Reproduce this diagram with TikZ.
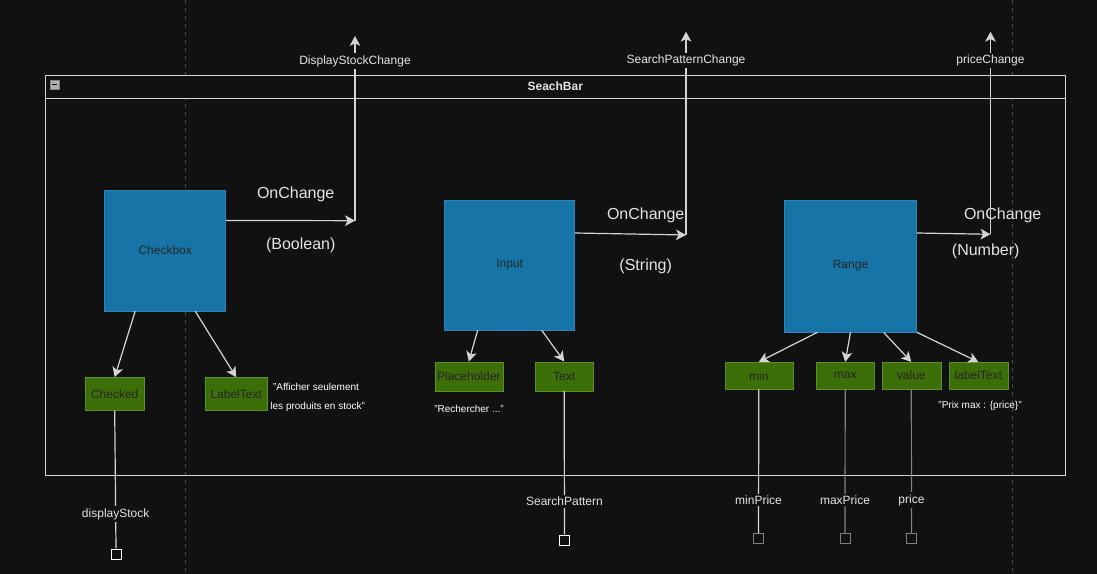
\documentclass[tikz,border=0pt]{standalone}
\usepackage{fontspec}
\setmainfont{Liberation Sans}
\usetikzlibrary{arrows.meta, positioning}
\definecolor{my_bg}{RGB}{17, 17, 17}
\definecolor{my_blue}{RGB}{22, 117, 166}
\definecolor{my_blueline}{RGB}{45, 132, 184}
\definecolor{my_green}{RGB}{61, 111, 8}
\definecolor{my_greenline}{RGB}{92, 142, 42}
\definecolor{my_line}{RGB}{212, 212, 212}
\definecolor{my_gray}{RGB}{128, 128, 128}
\definecolor{my_text}{RGB}{228, 228, 228}
\definecolor{my_dash}{RGB}{68, 68, 68}
\tikzset {
  container/.style = {draw=my_line, line width=0.75pt},
  component/.style = {draw=my_blueline, fill=my_blue, text=black!85, inner sep=0pt, font=\fontsize{9}{11}\selectfont},
  prop/.style = {draw=my_greenline, fill=my_green, text=black!85, inner sep=0pt, font=\fontsize{9}{11}\selectfont},
  line/.style = {->, color=my_line, line width=0.9pt, >={Stealth[length=7.5pt, width=8pt, inset=2pt]}},
  wire/.style = {color=my_line, line width=0.9pt},
  graywire/.style = {wire, color=my_gray},
  event/.style = {text=my_text, font=\fontsize{12}{14}\selectfont},
  portlabel/.style = {fill=my_bg, text=my_text, inner sep=1.5pt, font=\fontsize{9}{11}\selectfont},
  quote/.style = {text=white, inner sep=0pt, font=\fontsize{7.5}{9}\selectfont},
  port/.style = {draw=white, fill=my_bg, line width=0.75pt, minimum size=7.5pt, inner sep=0pt},
  grayport/.style = {port, draw=my_gray}
}

\begin{document}
\begin{tikzpicture}[x=0.75pt, y=-0.75pt]

    % page and guides
    \fill[my_bg] (0,0) rectangle (1097,574);
    \useasboundingbox (0,0) rectangle (1097,574);
    \draw[my_dash, line width=0.75pt, dash pattern=on 3pt off 3pt] (185.3,0) -- (185.3,574);
    \draw[my_dash, line width=0.75pt, dash pattern=on 3pt off 3pt] (1012.3,0) -- (1012.3,574);

    % container
    \draw[container] (45.7,75.3) rectangle (1065.7,475);
    \draw[container, fill=my_bg] (45.7,75.3) rectangle (1065.7,98.7);
    \node[draw=my_gray, fill=gray!60, minimum size=6.75pt, inner sep=0pt] (fold) at (54.5,84.5) {};
    \draw[black, line width=1pt] ([xshift=-2pt]fold.center) -- ([xshift=2pt]fold.center);
    \node[text=my_text, font=\bfseries\fontsize{9}{11}\selectfont] (title) at (555.3,86.7) {SeachBar};

    % components
    \node[component, minimum size=90.75pt] (checkbox) at (165.2,250.4) {Checkbox};
    \node[component, minimum size=97.5pt] (input) at (509.7,265) {Input};
    \node[component, minimum size=99pt] (range) at (850.5,266) {Range};

    % props
    \node[prop, minimum width=44.25pt, minimum height=24.75pt] (checked) at (114.7,394) {Checked};
    \node[prop, minimum width=46.5pt, minimum height=24.75pt] (labeltext) at (236.2,394) {LabelText};
    \node[prop, minimum width=51pt, minimum height=21.75pt] (placeholder) at (468.8,376.3) {Placeholder};
    \node[prop, minimum width=43.5pt, minimum height=21.75pt] (text) at (564.2,376.3) {Text};
    \node[prop, minimum width=51pt, minimum height=20.25pt] (min) at (758.8,375.7) {min};
    \node[prop, minimum width=43.5pt, minimum height=20.25pt] (max) at (845.2,375.7) {max};
    \node[prop, minimum width=44.25pt, minimum height=20.25pt] (value) at (911.3,375.7) {value};
    \node[prop, minimum width=44.25pt, minimum height=20.25pt] (rangelabel) at (978.3,375.7) {labelText};

    % values
    \node[quote] (stockquote1) at (316,386.7) {"Afficher seulement};
    \node[quote] (stockquote2) at (317.7,406.7) {les produits en stock"};
    \node[quote] (searchquote) at (469,409) {"Rechercher ..."};
    \node[quote] (pricequote) at (980,405.7) {"Prix max : \{price\}"};

    % events
    \node[event] (onchange1) at (295.7,194.3) {OnChange};
    \node[event] (type1) at (300.7,245.7) {(Boolean)};
    \node[event] (onchange2) at (645.7,215.7) {OnChange};
    \node[event] (type2) at (645.7,266) {(String)};
    \node[event] (onchange3) at (1002.7,215.7) {OnChange};
    \node[event] (type3) at (985.7,251) {(Number)};

    \coordinate (bend1) at (355,220.7);
    \coordinate (out1) at (355,36);
    \coordinate (bend2) at (686,235);
    \coordinate (out2) at (686,31.7);
    \coordinate (bend3) at (990.5,234.3);
    \coordinate (out3) at (990.5,31.7);

    \draw[line] ([yshift=22.5pt]checkbox.east) -- (bend1);
    \draw[line] (bend1) -- (out1) node[portlabel, pos=0.865] {DisplayStockChange};
    \draw[line] ([yshift=24pt]input.east) -- (bend2);
    \draw[line] (bend2) -- (out2) node[portlabel, pos=0.857] {SearchPatternChange};
    \draw[line] ([yshift=24.75pt]range.east) -- (bend3);
    \draw[line] (bend3) -- (out3) node[portlabel, pos=0.856] {priceChange};

    % children
    \draw[line] ([xshift=-22.5pt]checkbox.south) -- (checked.north);
    \draw[line] ([xshift=22.5pt]checkbox.south) -- (labeltext.north);
    \draw[line] ([xshift=-24pt]input.south) -- (placeholder.north);
    \draw[line] ([xshift=24pt]input.south) -- (text.north);
    \draw[line] ([xshift=-24.75pt]range.south) -- (min.north);
    \draw[line] (range.south) -- (max.north);
    \draw[line] ([xshift=24.75pt]range.south) -- (value.north);
    \draw[line] (range.south east) -- (rangelabel.north);

    % ports
    \node[port] (pstock) at (116,554) {};
    \node[port] (ppattern) at (564.5,540) {};
    \node[grayport] (pmin) at (758.5,538.5) {};
    \node[grayport] (pmax) at (845,538.5) {};
    \node[grayport] (pprice) at (911.5,538.5) {};

    \draw[wire] (checked.south) -- (pstock.north) node[portlabel, pos=0.75] {displayStock};
    \draw[wire] (text.south) -- (ppattern.north) node[portlabel, pos=0.77] {SearchPattern};
    \draw[wire] (min.south) -- (pmin.north) node[portlabel, pos=0.77] {minPrice};
    \draw[graywire] (max.south) -- (pmax.north) node[portlabel, pos=0.77] {maxPrice};
    \draw[graywire] (value.south) -- (pprice.north) node[portlabel, pos=0.77] {price};

\end{tikzpicture}
\end{document}
